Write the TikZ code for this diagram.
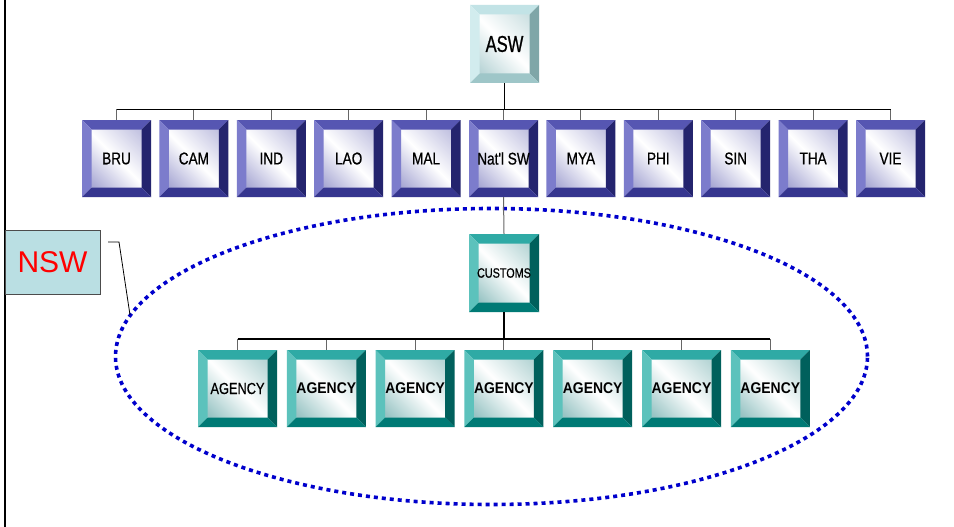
\documentclass[tikz,border=0pt]{standalone}
\usepackage{fontspec}
\setmainfont{Liberation Sans}
\newfontfamily\nf[FakeStretch=0.8,FakeBold=0.6]{Liberation Sans}
\newfontfamily\nfb[FakeStretch=0.9]{Liberation Sans}
\newfontfamily\nfa[FakeStretch=0.72,FakeBold=0.8]{Liberation Sans}
\usetikzlibrary{calc,shapes.geometric}
\definecolor{bT}{HTML}{5656B2}
\definecolor{bL}{HTML}{7C7CCC}
\definecolor{bR}{HTML}{24246E}
\definecolor{bB}{HTML}{36368F}
\definecolor{bF}{HTML}{A8A8D4}
\definecolor{tT}{HTML}{2FAAA5}
\definecolor{tL}{HTML}{5CC2BC}
\definecolor{tR}{HTML}{00605C}
\definecolor{tB}{HTML}{007A75}
\definecolor{tF}{HTML}{98C4C4}
\definecolor{cT}{HTML}{C2E3E6}
\definecolor{cL}{HTML}{D2ECEE}
\definecolor{cR}{HTML}{7FA6A8}
\definecolor{cB}{HTML}{9EC6C8}
\definecolor{cF}{HTML}{B8D4D6}
\definecolor{nswfill}{HTML}{BADFE3}
\definecolor{dotblue}{HTML}{0000CC}
\def\bw{9.5pt}
\tikzset{
  bevbox/.style n args={5}{fill=white, inner sep=0pt, text=black,
    path picture={
      \shade[top color=#5!70, bottom color=#5, middle color=white, shading angle=-45]
        ([shift={(\bw,-\bw)}]path picture bounding box.north west) rectangle
        ([shift={(-\bw,\bw)}]path picture bounding box.south east);
      \fill[#1] (path picture bounding box.north west) -- (path picture bounding box.north east)
        -- ([shift={(-\bw,-\bw)}]path picture bounding box.north east)
        -- ([shift={(\bw,-\bw)}]path picture bounding box.north west) -- cycle;
      \fill[#2] (path picture bounding box.north west) -- (path picture bounding box.south west)
        -- ([shift={(\bw,\bw)}]path picture bounding box.south west)
        -- ([shift={(\bw,-\bw)}]path picture bounding box.north west) -- cycle;
      \fill[#3] (path picture bounding box.north east) -- (path picture bounding box.south east)
        -- ([shift={(-\bw,\bw)}]path picture bounding box.south east)
        -- ([shift={(-\bw,-\bw)}]path picture bounding box.north east) -- cycle;
      \fill[#4] (path picture bounding box.south west) -- (path picture bounding box.south east)
        -- ([shift={(-\bw,\bw)}]path picture bounding box.south east)
        -- ([shift={(\bw,\bw)}]path picture bounding box.south west) -- cycle;
    }},
  bluebox/.style={bevbox={bT}{bL}{bR}{bB}{bF}, minimum width=69pt, minimum height=77pt, font=\nf\fontsize{17}{17}\selectfont},
  tealbox/.style={bevbox={tT}{tL}{tR}{tB}{tF}, minimum width=79pt, minimum height=77pt, font=\nf\fontsize{16}{16}\selectfont},
  cyanbox/.style={bevbox={cT}{cL}{cR}{cB}{cF}, minimum width=69pt, minimum height=78pt, font=\nfa\fontsize{23}{23}\selectfont},
  bar/.style={draw=black, line width=1.2pt},
  conn/.style={draw=black!60, line width=1pt},
  trunk/.style={draw=black, line width=1.8pt},
}
\begin{document}
\begin{tikzpicture}[x=1pt,y=-1pt]
\useasboundingbox (0,0) rectangle (954,527);
\fill[white] (0,0) rectangle (954,527);
\draw[line width=2pt] (5,0) -- (5,527);

% top
\node[cyanbox] (asw) at (504.5,44) {ASW};

% row 2
\foreach \n/\t [count=\i from 0] in {bru/BRU,cam/CAM,ind/IND,lao/LAO,mal/MAL,nat/Nat'l SW,mya/MYA,phi/PHI,sin/SIN,tha/THA,vie/VIE}{
  \node[bluebox] (\n) at ({116.5+\i*77.4},158.5) {\t};
}
\coordinate (bar1) at (504.5,109.5);
\foreach \n in {bru,cam,ind,lao,mal,nat,mya,phi,sin,tha,vie}{
  \draw[conn] (\n.north) -- (\n.north |- bar1);
}
\draw[bar] (bru.north |- bar1) -- (vie.north |- bar1);
\draw[trunk] (asw.south) -- (bar1);

% ellipse group
\node[draw=dotblue, line width=3.6pt, dash pattern=on 4pt off 4pt, ellipse,
      minimum width=752pt, minimum height=296pt, inner sep=0pt] (grp) at (491.5,356.5) {};

% customs
\node[tealbox, minimum width=70pt, minimum height=78pt, font=\nf\fontsize{13.5}{14}\selectfont] (cus) at (504,273) {CUSTOMS};
\draw[conn] (nat.south) -- (cus.north);

% agencies
\node[tealbox] (ag1) at (237.5,388.5) {AGENCY};
\foreach \i in {2,...,7}{
  \node[tealbox, font=\nfb\fontsize{15.5}{16}\selectfont\bfseries] (ag\i) at ({237.5+(\i-1)*88.8},388.5) {AGENCY};
}
\coordinate (bar2) at (504,339);
\foreach \i in {1,...,7}{
  \draw[conn] (ag\i.north) -- (ag\i.north |- bar2);
}
\draw[bar] (ag1.north |- bar2) -- (ag7.north |- bar2);
\draw[trunk, line width=2.2pt] (cus.south) -- (bar2);

% NSW label
\node[draw=black!70, fill=nswfill, minimum width=95pt, minimum height=64pt, inner sep=0pt,
      text=red, font=\fontsize{30}{30}\selectfont] (nsw) at (52.5,262) {NSW};
\coordinate (c1) at (108,242);
\coordinate (c2) at (119,242);
\coordinate (c3) at (130,315);
\draw[black, line width=0.8pt] (c1) -- (c2) -- (c3);
\end{tikzpicture}
\end{document}
